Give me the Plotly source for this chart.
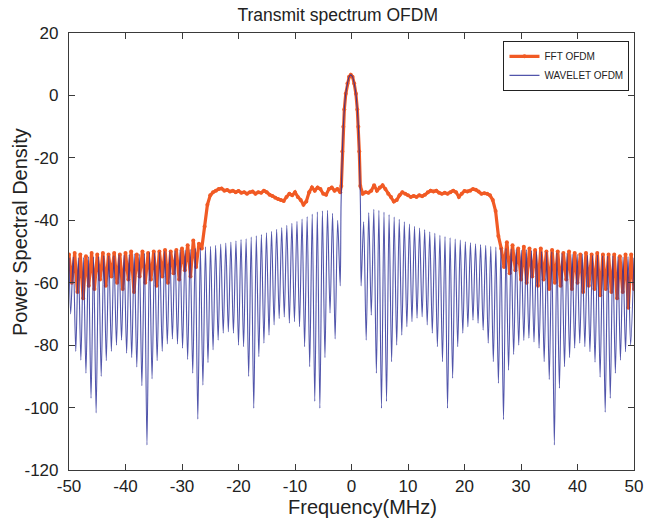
import numpy as np
import plotly.graph_objects as go

# ---------------- data ----------------
TITLE = "Transmit spectrum OFDM"
X_TITLE = "Frequency(MHz)"
Y_TITLE = "Power Spectral Density"
X_TICKS = [-50, -40, -30, -20, -10, 0, 10, 20, 30, 40, 50]
Y_TICKS = [20, 0, -20, -40, -60, -80, -100, -120]

# FFT OFDM (orange) - sampled every 0.5 MHz
fft_left_oob_start = -50.0
fft_left_oob = [-51, -60, -50.5, -63, -51, -65, -51.5, -61, -50.5, -62,
                -51, -59, -50.5, -61, -51, -58, -50.5, -60, -51, -62,
                -50.5, -59, -50, -63, -51, -58, -50, -60, -50.5, -59,
                -50, -61, -50, -58, -49.5, -60, -50, -57, -49.5, -59,
                -49, -56, -48, -58, -46.5, -55, -47.5]
fft_left_band_start = -26.5
fft_left_band = [-49, -42, -35, -32, -31, -30.5, -30, -29.8, -30.5, -30.3,
                 -30.8, -30.5, -31, -30.6, -31.2, -31, -31.5, -31, -30.8, -31.5,
                 -31, -31.2, -30.5, -31, -31.8, -32.2, -32.8, -33.2, -33.5, -33.8,
                 -32.5, -31.5, -32, -31, -32.5, -33.5, -35, -34, -31, -29.5,
                 -30.5, -29.5, -30, -31.5, -31.8, -30, -29.5, -30.5, -30, -31]
fft_main_f = [-1.8, -1.62, -1.45, -1.27, -1.02, -0.72, -0.42, -0.12, 0.18, 0.48,
              0.78, 1.03, 1.21, 1.38, 1.56]
fft_main = [-29, -18, -10, -4.5, 0.5, 3.8, 6.0, 6.6, 6.0, 3.8,
            0.5, -4.5, -10, -18, -29]
fft_right_band_start = 2.0
fft_right_band = [-31.5, -31, -31.2, -30.5, -28.8, -30.5, -29.5, -28.8, -30, -31.5,
                  -32.5, -34, -33.5, -32, -31, -31.5, -32, -32.5, -32.2, -32.5,
                  -32, -32.3, -31.8, -31, -30.5, -30.8, -30.5, -31.2, -31.5, -31.2,
                  -31.5, -31, -30.5, -31, -32.5, -31.5, -30.6, -30.8, -30.5, -30,
                  -30.2, -30.8, -31.5, -31.3, -31.5, -32, -33.5, -37, -45]
fft_right_oob_start = 26.5
fft_right_oob = [-49, -55, -47, -57, -48, -56, -49, -59, -48.5, -60,
                 -49, -58, -49.5, -61, -49, -59, -50, -62, -49.5, -60,
                 -50, -61, -50.5, -59, -50, -62, -50.5, -60, -51, -63,
                 -50.5, -61, -51, -62, -50.5, -64, -51, -62, -51, -63,
                 -51, -65, -51.5, -63, -51, -68, -51, -62]
FFT_STEP = 0.5

# WAVELET OFDM (blue): lobes between nulls, nulls every 0.9 MHz
wav_center = -0.15
wav_null_d0 = 5.45      # distance of null index 0 from centre
wav_null_step = 0.9
wav_null_k_first = -4   # nulls k = -4 ... 49 on each side
wav_null_left = [-61, -78, -69.7, -84, -100.2, -98, -86.9, -80.5, -74.1, -72.5,
                 -73, -71, -71.5, -73.5, -76.8, -79.4, -83.7, -100.2, -90, -80.5,
                 -80, -76.2, -75.7, -76.2, -78.4, -81.5, -85.6, -92.8, -103.7, -89,
                 -84.6, -81, -79.6, -78, -79.6, -82, -85, -90.8, -112, -93,
                 -87, -84, -82.6, -78.4, -80, -82, -85, -90, -101.7, -97,
                 -89, -84.8, -82, -70]
wav_null_right = [-61, -78.4, -70.4, -89, -100.2, -98, -85.3, -80, -76.8, -74.1,
                  -72.5, -71.4, -70.9, -73.5, -76.2, -80.5, -85.3, -100.2, -90.6, -80.5,
                  -76.2, -74.1, -72, -73, -75.2, -79.4, -85.3, -92.2, -103.8, -88,
                  -83, -80, -78.5, -77.8, -79, -81, -85.3, -91, -112, -93.8,
                  -86.9, -84, -81, -79.4, -80.5, -82.1, -85.5, -90.3, -101.5, -97,
                  -89, -84.8, -82.1, -80]
wav_peak_left = [-40, -37.8, -36.8, -37, -37.3, -38, -38.8, -39.6, -40.3, -41,
                 -41.6, -42.3, -42.9, -43.5, -44, -44.6, -45, -45.4, -45.9, -46.2,
                 -46.6, -47, -47.3, -47.6, -48, -48.3, -48.5, -48.8, -49, -49.3,
                 -49.5, -49.4, -49.8, -50, -49.9, -50.2, -50.4, -50.3, -50.6, -50.8,
                 -50.7, -51, -51.1, -51, -51.3, -51.4, -51.3, -51.6, -51.7, -51.6,
                 -51.9, -52, -51.8]
wav_peak_right = [-40.5, -37.5, -36.5, -36.8, -37.4, -38.2, -39, -39.7, -40.5, -41.2,
                  -41.9, -42.5, -43, -43.7, -44.2, -44.8, -45.2, -45.6, -46, -46.3,
                  -46.8, -47.1, -47.5, -47.8, -48, -48.3, -48.6, -48.8, -49, -49.1,
                  -49.3, -49.5, -49.4, -49.7, -49.9, -50, -50.2, -50.1, -50.4, -50.6,
                  -50.5, -50.8, -50.9, -50.8, -51.1, -51.2, -51.1, -51.4, -51.5, -51.4,
                  -51.7, -51.8, -51.6]
wav_end_left = -52
wav_end_right = -52
wav_main_f = [-1.85, -1.62, -1.45, -1.27, -1.02, -0.72, -0.42, -0.12, 0.18, 0.48,
              0.78, 1.03, 1.21, 1.38, 1.58]
wav_main = [-35, -18, -10, -4.5, 0.5, 3.8, 6.0, 6.6, 6.0, 3.8,
            0.5, -4.5, -10, -18, -35]

# ---------------- build traces ----------------
def grid(start, vals):
    return list(start + FFT_STEP * np.arange(len(vals)))

fft_x = (grid(fft_left_oob_start, fft_left_oob) + grid(fft_left_band_start, fft_left_band)
         + fft_main_f + grid(fft_right_band_start, fft_right_band)
         + grid(fft_right_oob_start, fft_right_oob))
fft_y = fft_left_oob + fft_left_band + fft_main + fft_right_band + fft_right_oob

k = np.arange(wav_null_k_first, wav_null_k_first + len(wav_null_left))
null_d = wav_null_d0 + wav_null_step * k
peak_d = null_d[:-1] + wav_null_step / 2

wx, wy = [-50.0], [wav_end_left]
n = len(null_d)
for i in range(n - 1, -1, -1):
    wx.append(wav_center - null_d[i]); wy.append(wav_null_left[i])
    if i > 0:
        wx.append(wav_center - peak_d[i - 1]); wy.append(wav_peak_left[i - 1])
wx += wav_main_f
wy += wav_main
for i in range(n):
    wx.append(wav_center + null_d[i]); wy.append(wav_null_right[i])
    if i < n - 1:
        wx.append(wav_center + peak_d[i]); wy.append(wav_peak_right[i])
wx.append(50.0); wy.append(wav_end_right)

ORANGE = "#f15a24"
BLUE = "rgba(38,42,150,0.8)"
FONT = "Liberation Sans, Arial, sans-serif"
TXT = "#222222"

fig = go.Figure()
fig.add_trace(go.Scatter(x=fft_x, y=fft_y, name="FFT OFDM", mode="lines+markers",
                         line=dict(color=ORANGE, width=3.2),
                         marker=dict(color=ORANGE, size=4)))
fig.add_trace(go.Scatter(x=wx, y=wy, name="WAVELET OFDM", mode="lines",
                         line=dict(color=BLUE, width=1.1, shape="spline", smoothing=0.8)))

axis_common = dict(showgrid=False, zeroline=False, showline=True, linecolor="#3a3a3a",
                   linewidth=1.2, mirror="ticks", ticks="inside", ticklen=6,
                   tickcolor="#3a3a3a", tickwidth=1.2,
                   tickfont=dict(family=FONT, size=17, color=TXT))
fig.update_xaxes(range=[-50, 50], tickvals=X_TICKS, ticktext=[str(v) for v in X_TICKS],
                 **axis_common)
fig.update_yaxes(range=[-120, 20], tickvals=Y_TICKS, ticktext=[str(v) for v in Y_TICKS],
                 ticklabelstandoff=6, **axis_common)

fig.update_layout(
    width=647, height=520,
    margin=dict(l=69, r=13, t=33, b=50, autoexpand=False),
    paper_bgcolor="white", plot_bgcolor="white",
    title=dict(text=TITLE, x=0.522, xanchor="center", y=0.972, yanchor="middle",
               font=dict(family=FONT, size=17.5, color=TXT)),
    legend=dict(x=0.992, y=0.982, xanchor="right", yanchor="top",
                bgcolor="white", bordercolor="#222", borderwidth=1,
                font=dict(family=FONT, size=10, color=TXT), itemwidth=30,
                tracegroupgap=0),
    showlegend=True,
    annotations=[
        dict(text=X_TITLE, xref="paper", yref="paper", x=0.5186, y=-0.0847,
             xanchor="center", yanchor="middle", showarrow=False,
             font=dict(family=FONT, size=20, color=TXT)),
        dict(text=Y_TITLE, xref="paper", yref="paper", x=-0.0867, y=0.5446,
             xanchor="center", yanchor="middle", showarrow=False, textangle=-90,
             font=dict(family=FONT, size=20, color=TXT)),
    ],
)

fig.write_html("out.html", config={"displayModeBar": False},
               post_script="document.body.style.margin='0px';")
